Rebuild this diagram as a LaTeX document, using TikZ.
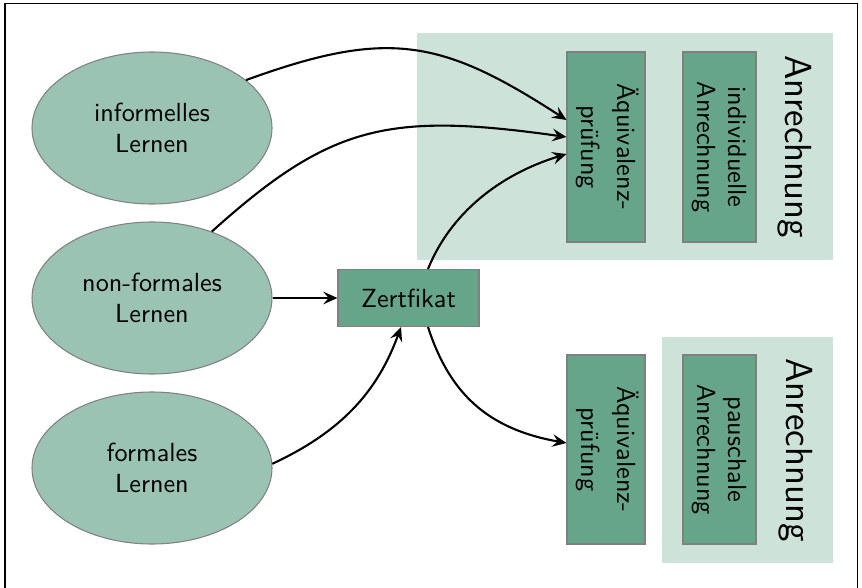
\documentclass[tikz,border=0pt]{standalone}
\usepackage{fontspec}
\usepackage{graphicx}
\usetikzlibrary{shapes.geometric,arrows.meta}
\definecolor{ellfill}{RGB}{155,195,179}
\definecolor{boxfill}{RGB}{102,165,138}
\definecolor{bgfill}{RGB}{205,226,217}
\definecolor{bordergray}{RGB}{128,128,128}
\def\pxu{0.3817pt}
\newcommand{\vtext}[1]{\rotatebox[origin=c]{-90}{\begin{tabular}{@{}c@{}}#1\end{tabular}}}
\begin{document}
\begin{tikzpicture}[x=0.3817pt,y=0.3817pt,font=\sffamily,
  ell/.style={ellipse,draw=bordergray,fill=ellfill,line width=0.4pt,
    minimum width=240*\pxu,minimum height=152*\pxu,inner sep=0pt,align=center},
  greenbox/.style={rectangle,draw=bordergray,fill=boxfill,line width=0.4pt,inner sep=0pt},
  bgbox/.style={rectangle,fill=bgfill,inner sep=0pt},
  biglabel/.style={rotate=-90,anchor=base,font=\sffamily\Large,inner sep=0pt},
  conn/.style={-{Stealth[length=5.4pt,width=4.8pt,inset=2pt]},thick}]
\useasboundingbox (0,0) rectangle (862,587);
% frame
\draw[line width=0.4pt] (5,-5) -- (5,583.5) -- (857,583.5) -- (857,-5);
% backgrounds
\node[bgbox,minimum width=416*\pxu,minimum height=227*\pxu] (bg1) at (625,440.5) {};
\node[bgbox,minimum width=171*\pxu,minimum height=226*\pxu] (bg2) at (747.5,137) {};
% ellipses
\node[ell] (inf) at (152,459) {informelles\\Lernen};
\node[ell] (non) at (152,289) {non-formales\\Lernen};
\node[ell] (for) at (152,119) {formales\\Lernen};
% certificate
\node[greenbox,minimum width=141*\pxu,minimum height=57*\pxu] (zert) at (408.5,289) {Zertfikat};
% upper boxes
\node[greenbox,minimum width=78*\pxu,minimum height=190*\pxu] (aq1) at (606,440) {\vtext{Äquivalenz-\\[1.6pt]prüfung}};
\node[greenbox,minimum width=73*\pxu,minimum height=190*\pxu] (ind) at (719.5,440) {\vtext{individuelle\\Anrechnung}};
\node[biglabel] (lab1) at (785,440.5) {Anrechnung};
% lower boxes
\node[greenbox,minimum width=78*\pxu,minimum height=189*\pxu] (aq2) at (606,137.5) {\vtext{Äquivalenz-\\[1.6pt]prüfung}};
\node[greenbox,minimum width=73*\pxu,minimum height=189*\pxu] (pau) at (719.5,137.5) {\vtext{pauschale\\Anrechnung}};
\node[biglabel] (lab2) at (786,137) {Anrechnung};
% connectors
\draw[conn] (inf.27) to[out=20,in=147,out distance=150*\pxu,in distance=150*\pxu] ([yshift=27*\pxu]aq1.west);
\draw[conn] (non.48) to[out=42,in=172,out distance=160*\pxu,in distance=180*\pxu] ([yshift=10*\pxu]aq1.west);
\draw[conn] ([xshift=19.5*\pxu]zert.north) to[out=68,in=197,out distance=60*\pxu,in distance=70*\pxu] ([yshift=-7*\pxu]aq1.west);
\draw[conn] ([xshift=19.5*\pxu]zert.south) to[out=-72,in=170,out distance=70*\pxu,in distance=80*\pxu] ([yshift=6.5*\pxu]aq2.west);
\draw[conn] (non.east) -- (zert.west);
\draw[conn] (for.2) to[out=25,in=-110,out distance=75*\pxu,in distance=70*\pxu] ([xshift=-7.5*\pxu]zert.south);
\end{tikzpicture}
\end{document}
